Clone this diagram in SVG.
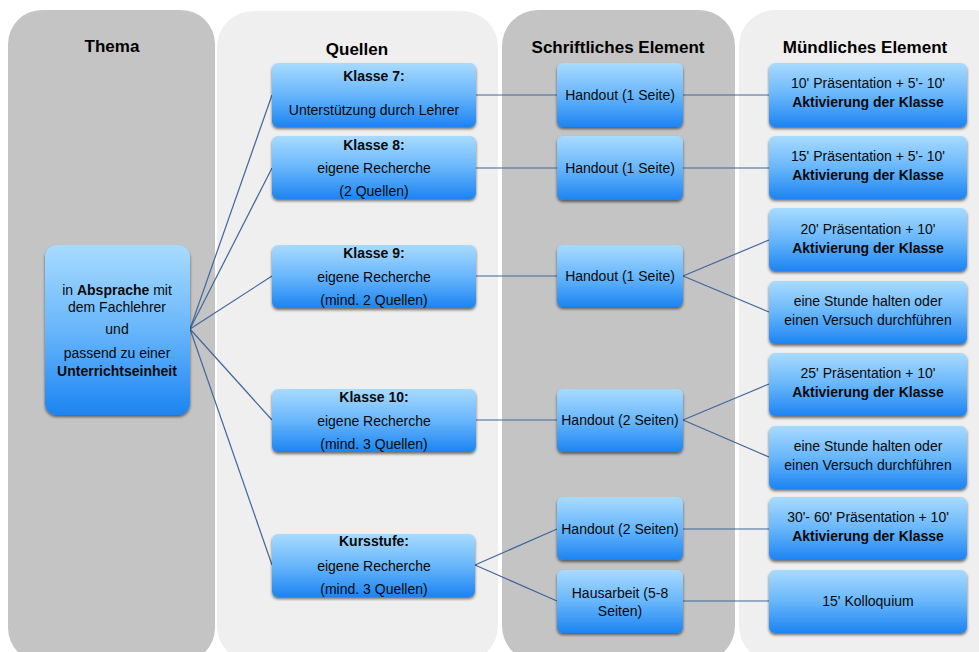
<svg xmlns="http://www.w3.org/2000/svg" width="979" height="652" viewBox="0 0 979 652">
<defs>
<linearGradient id="g" x1="0" y1="0" x2="0" y2="1">
<stop offset="0" stop-color="#a8dbff"/>
<stop offset="0.5" stop-color="#68b6fb"/>
<stop offset="1" stop-color="#1c84f2"/>
</linearGradient>
<filter id="sh" x="-10%" y="-10%" width="120%" height="130%">
<feGaussianBlur in="SourceAlpha" stdDeviation="1.5"/>
<feOffset dx="0" dy="2" result="b"/>
<feComponentTransfer><feFuncA type="linear" slope="0.55"/></feComponentTransfer>
<feMerge><feMergeNode/><feMergeNode in="SourceGraphic"/></feMerge>
</filter>
</defs>
<style>
.node rect{fill:url(#g);filter:url(#sh)}
text{font-family:"Liberation Sans",Arial,sans-serif;font-size:14px;fill:#0a0a0a;text-anchor:middle}
.b{font-weight:bold}
.h{font-size:17px;font-weight:bold;fill:#000}
.dark{fill:#c4c4c4}
.light{fill:#efefef}
#connectors line{stroke:#41679c;stroke-width:1.2}
</style>
<rect width="979" height="652" fill="#ffffff"/>
<g id="columns">
<rect class="dark" x="8" y="10" width="207" height="652" rx="34"/>
<rect class="light" x="217" y="11" width="281" height="651" rx="36"/>
<rect class="dark" x="502" y="10" width="233" height="652" rx="36"/>
<rect class="light" x="739" y="10" width="270" height="652" rx="36"/>
<text class="h" x="112" y="52">Thema</text>
<text class="h" x="357" y="55">Quellen</text>
<text class="h" x="618" y="53">Schriftliches Element</text>
<text class="h" x="865" y="53">Mündliches Element</text>
</g>
<g id="connectors">
<line x1="190" y1="329" x2="272" y2="95"/>
<line x1="190" y1="329" x2="272" y2="168"/>
<line x1="190" y1="329" x2="272" y2="276"/>
<line x1="190" y1="329" x2="272" y2="420"/>
<line x1="190" y1="329" x2="272" y2="565"/>
<line x1="476" y1="95" x2="557" y2="95"/>
<line x1="476" y1="168" x2="557" y2="168"/>
<line x1="476" y1="276" x2="557" y2="276"/>
<line x1="476" y1="420" x2="557" y2="420"/>
<line x1="475" y1="565" x2="557" y2="529"/>
<line x1="475" y1="565" x2="557" y2="601"/>
<line x1="683" y1="95" x2="769" y2="95"/>
<line x1="683" y1="168" x2="769" y2="168"/>
<line x1="683" y1="276" x2="769" y2="240"/>
<line x1="683" y1="276" x2="769" y2="312"/>
<line x1="683" y1="420" x2="769" y2="384"/>
<line x1="683" y1="420" x2="769" y2="457"/>
<line x1="683" y1="529" x2="769" y2="529"/>
<line x1="683" y1="601" x2="769" y2="601"/>
</g>
<g id="thema" class="node">
<rect x="45" y="245" width="145" height="170" rx="12"/>
<text x="117" y="295">in <tspan class="b">Absprache</tspan> mit</text>
<text x="117" y="312">dem Fachlehrer</text>
<text x="117" y="334">und</text>
<text x="117" y="358">passend zu einer</text>
<text x="117" y="376" class="b">Unterrichtseinheit</text>
</g>
<g id="q7" class="node">
<rect x="272" y="63" width="204" height="64" rx="6"/>
<text x="374" y="81" class="b">Klasse 7:</text>
<text x="374" y="115">Unterstützung durch Lehrer</text>
</g>
<g id="q8" class="node">
<rect x="272" y="136" width="204" height="63" rx="6"/>
<text x="374" y="150" class="b">Klasse 8:</text>
<text x="374" y="173">eigene Recherche</text>
<text x="374" y="196">(2 Quellen)</text>
</g>
<g id="q9" class="node">
<rect x="272" y="245" width="204" height="63" rx="6"/>
<text x="374" y="258" class="b">Klasse 9:</text>
<text x="374" y="282">eigene Recherche</text>
<text x="374" y="305">(mind. 2 Quellen)</text>
</g>
<g id="q10" class="node">
<rect x="272" y="389" width="204" height="63" rx="6"/>
<text x="374" y="402" class="b">Klasse 10:</text>
<text x="374" y="426">eigene Recherche</text>
<text x="374" y="449">(mind. 3 Quellen)</text>
</g>
<g id="qk" class="node">
<rect x="272" y="534" width="203" height="63" rx="6"/>
<text x="374" y="546" class="b">Kursstufe:</text>
<text x="374" y="571">eigene Recherche</text>
<text x="374" y="594">(mind. 3 Quellen)</text>
</g>
<g id="s1" class="node">
<rect x="557" y="63" width="126" height="64" rx="6"/>
<text x="620" y="100">Handout (1 Seite)</text>
</g>
<g id="s2" class="node">
<rect x="557" y="136" width="126" height="64" rx="6"/>
<text x="620" y="173">Handout (1 Seite)</text>
</g>
<g id="s3" class="node">
<rect x="557" y="245" width="126" height="62" rx="6"/>
<text x="620" y="281">Handout (1 Seite)</text>
</g>
<g id="s4" class="node">
<rect x="557" y="389" width="126" height="63" rx="6"/>
<text x="620" y="425">Handout (2 Seiten)</text>
</g>
<g id="s5" class="node">
<rect x="557" y="497" width="126" height="63" rx="6"/>
<text x="620" y="534">Handout (2 Seiten)</text>
</g>
<g id="s6" class="node">
<rect x="557" y="570" width="126" height="63" rx="6"/>
<text x="620" y="598">Hausarbeit (5-8</text>
<text x="620" y="616">Seiten)</text>
</g>
<g id="m1" class="node">
<rect x="769" y="63" width="198" height="64" rx="6"/>
<text x="868" y="88">10' Präsentation + 5'- 10'</text>
<text x="868" y="107" class="b">Aktivierung der Klasse</text>
</g>
<g id="m2" class="node">
<rect x="769" y="136" width="198" height="63" rx="6"/>
<text x="868" y="161">15' Präsentation + 5'- 10'</text>
<text x="868" y="180" class="b">Aktivierung der Klasse</text>
</g>
<g id="m3" class="node">
<rect x="769" y="208" width="198" height="63" rx="6"/>
<text x="868" y="234">20' Präsentation + 10'</text>
<text x="868" y="253" class="b">Aktivierung der Klasse</text>
</g>
<g id="m4" class="node">
<rect x="769" y="281" width="198" height="63" rx="6"/>
<text x="868" y="306">eine Stunde halten oder</text>
<text x="868" y="325">einen Versuch durchführen</text>
</g>
<g id="m5" class="node">
<rect x="769" y="353" width="198" height="63" rx="6"/>
<text x="868" y="378">25' Präsentation + 10'</text>
<text x="868" y="397" class="b">Aktivierung der Klasse</text>
</g>
<g id="m6" class="node">
<rect x="769" y="426" width="198" height="63" rx="6"/>
<text x="868" y="451">eine Stunde halten oder</text>
<text x="868" y="470">einen Versuch durchführen</text>
</g>
<g id="m7" class="node">
<rect x="769" y="497" width="198" height="63" rx="6"/>
<text x="868" y="522">30'- 60' Präsentation + 10'</text>
<text x="868" y="541" class="b">Aktivierung der Klasse</text>
</g>
<g id="m8" class="node">
<rect x="769" y="570" width="198" height="63" rx="6"/>
<text x="868" y="606">15' Kolloquium</text>
</g>
</svg>
